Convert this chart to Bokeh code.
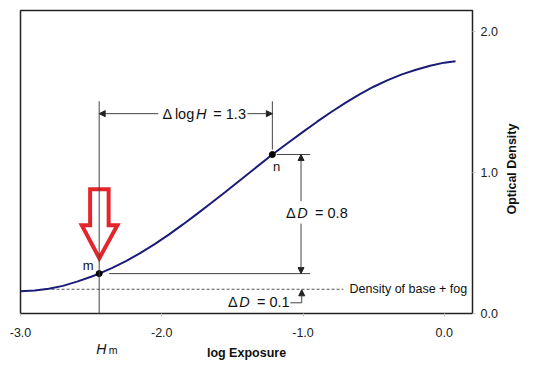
import math
from bokeh.plotting import figure
from bokeh.models import Range1d, FixedTicker, Arrow, NormalHead, Label, LinearAxis
from bokeh.embed import file_html
from bokeh.resources import INLINE

FONT = "Liberation Sans"

# ---- data -------------------------------------------------------------
curve_log_exposure = [-3.0, -2.9, -2.8, -2.7, -2.6, -2.5, -2.443, -2.35, -2.25, -2.15,
                      -2.05, -1.95, -1.85, -1.75, -1.65, -1.55, -1.45, -1.35, -1.217,
                      -1.1, -1.0, -0.9, -0.8, -0.7, -0.6, -0.5, -0.4, -0.3, -0.2,
                      -0.1, 0.0, 0.08]
curve_density = [0.158, 0.163, 0.175, 0.196, 0.226, 0.261, 0.283, 0.324, 0.374, 0.430,
                 0.492, 0.560, 0.632, 0.707, 0.784, 0.862, 0.942, 1.022, 1.128,
                 1.215, 1.289, 1.361, 1.430, 1.495, 1.555, 1.609, 1.656, 1.697, 1.730,
                 1.758, 1.780, 1.790]

x_ticks = [-3.0, -2.0, -1.0, 0.0]
x_tick_labels = ["-3.0", "-2.0", "-1.0", "0.0"]
y_ticks = [0.0, 1.0, 2.0]
y_tick_labels = ["0.0", "1.0", "2.0"]
y_title = "Optical Density"
y_title_start = 0.702          # density level where the rotated title begins
x_title = "log Exposure"

point_m = [-2.443, 0.283]
point_n = [-1.217, 1.128]
hm_label_x = -2.428
hm_subscript_x = -2.344
base_fog_density = 0.172
fog_line_x = [-2.78, -0.714]
guide_top = 1.506
hm_line_bottom = -0.149
n_line_bottom = 1.163
log_h_arrow_y = 1.418
log_h_gap = [-2.025, -1.394]
dd_arrow_x = -1.014
dd_gap = [0.638, 0.797]
level_line_end = -0.950
m_line_start = -2.372
n_line_start = -1.186
dd01_x = -1.009
dd01_bottom = 0.076
dd01_hook_start = -1.09
marker_arrow_x = [-2.507, -2.376, -2.376, -2.314, -2.442, -2.566, -2.507]
marker_arrow_y = [0.882, 0.882, 0.626, 0.626, 0.392, 0.626, 0.626]

# ---- figure -----------------------------------------------------------
p = figure(width=536, height=365, x_range=Range1d(-3.0, 0.2), y_range=Range1d(0.0, 2.15),
           y_axis_location="right", output_backend="svg", toolbar_location=None,
           min_border_left=20, min_border_top=10, min_border_right=64, min_border_bottom=52)
p.background_fill_color = "white"
p.border_fill_color = "white"
p.outline_line_color = "#222222"
p.outline_line_width = 1.5
p.grid.visible = False


def style_axis(ax):
    ax.axis_line_color = None
    ax.major_tick_line_color = "#c8c8c8"
    ax.major_tick_out = 3
    ax.major_tick_in = 0
    ax.minor_tick_line_color = None
    ax.major_label_text_font = FONT
    ax.major_label_text_font_size = "12.5px"
    ax.major_label_text_color = "#222222"
    ax.axis_label_text_font = FONT
    ax.axis_label_text_font_size = "12.5px"
    ax.axis_label_text_font_style = "bold"
    ax.axis_label_text_color = "#111111"


style_axis(p.xaxis[0])
style_axis(p.yaxis[0])

p.xaxis.ticker = FixedTicker(ticks=x_ticks)
p.xaxis.major_label_overrides = {t: s for t, s in zip(x_ticks, x_tick_labels)}
p.xaxis.major_label_standoff = 11
p.yaxis.ticker = FixedTicker(ticks=y_ticks)
p.yaxis.major_label_overrides = {t: s for t, s in zip(y_ticks, y_tick_labels)}
p.yaxis.major_label_standoff = 5

# rotated right-hand title (reads bottom to top)
title_axis = LinearAxis(ticker=FixedTicker(ticks=[y_title_start]),
                        major_label_overrides={y_title_start: y_title})
style_axis(title_axis)
title_axis.major_tick_line_color = None
title_axis.major_tick_out = 0
title_axis.major_label_orientation = math.pi / 2
title_axis.major_label_text_font_style = "bold"
title_axis.major_label_text_color = "#111111"
title_axis.major_label_standoff = 12
p.add_layout(title_axis, "right")

# second row below the axis: italic H (of H_m) and the axis title
hm_axis = LinearAxis(ticker=FixedTicker(ticks=[hm_label_x]),
                     major_label_overrides={hm_label_x: "H"})
style_axis(hm_axis)
hm_axis.major_tick_line_color = None
hm_axis.major_tick_out = 0
hm_axis.major_label_text_font_size = "14px"
hm_axis.major_label_text_font_style = "italic"
hm_axis.major_label_text_color = "#111111"
hm_axis.major_label_standoff = 1
hm_axis.axis_label = x_title
hm_axis.axis_label_standoff = -14
p.add_layout(hm_axis, "below")

# subscript m of H_m
sub_axis = LinearAxis(ticker=FixedTicker(ticks=[hm_subscript_x]),
                      major_label_overrides={hm_subscript_x: "m"})
style_axis(sub_axis)
sub_axis.major_tick_line_color = None
sub_axis.major_tick_out = 0
sub_axis.major_label_text_font_size = "10.5px"
sub_axis.major_label_text_color = "#111111"
sub_axis.major_label_standoff = -19
p.add_layout(sub_axis, "below")

LINE = "#444444"
HEAD = "#222222"

# base + fog dashed line
p.line(fog_line_x, [base_fog_density, base_fog_density], line_color="#555555",
       line_width=1, line_dash="3 2")

# horizontal level lines at m and n
p.segment(x0=[m_line_start, n_line_start], y0=[point_m[1], point_n[1]],
          x1=[level_line_end, level_line_end], y1=[point_m[1], point_n[1]],
          line_color=LINE, line_width=1)

# vertical guide at n
p.segment(x0=[point_n[0]], y0=[guide_top], x1=[point_n[0]], y1=[n_line_bottom],
          line_color=LINE, line_width=1)

# vertical guide at H_m (runs below the axis)
p.add_layout(Arrow(end=None, x_start=point_m[0], y_start=guide_top,
                   x_end=point_m[0], y_end=hm_line_bottom,
                   line_color=LINE, line_width=1))


def arrow(xs, ys, xe, ye):
    p.add_layout(Arrow(end=NormalHead(size=6, fill_color=HEAD, line_color=HEAD, line_width=1),
                       x_start=xs, y_start=ys, x_end=xe, y_end=ye,
                       line_color=LINE, line_width=1))


# delta log H arrows
arrow(log_h_gap[0], log_h_arrow_y, point_m[0], log_h_arrow_y)
arrow(log_h_gap[1], log_h_arrow_y, point_n[0], log_h_arrow_y)
# delta D = 0.8 arrows
arrow(dd_arrow_x, dd_gap[1], dd_arrow_x, point_n[1])
arrow(dd_arrow_x, dd_gap[0], dd_arrow_x, point_m[1])
# delta D = 0.1 arrow with hook
p.segment(x0=[dd01_hook_start], y0=[dd01_bottom], x1=[dd01_x], y1=[dd01_bottom],
          line_color=LINE, line_width=1)
arrow(dd01_x, dd01_bottom, dd01_x, base_fog_density - 0.004)

# characteristic curve
p.line(curve_log_exposure, curve_density, line_color="#1b1b78", line_width=2)

# points m and n
p.scatter([point_m[0], point_n[0]], [point_m[1], point_n[1]], size=6,
          fill_color="black", line_color="black")

# red hollow marker arrow
p.patch(marker_arrow_x, marker_arrow_y, fill_color=None, line_color="#e2262b",
        line_width=4, line_join="miter")


def put(x, y, text, dx=0.0, size="14.5px", style="normal", align="left"):
    p.add_layout(Label(x=x, y=y, text=text, x_offset=dx, text_font=FONT,
                       text_font_size=size, text_font_style=style, text_align=align,
                       text_baseline="middle", text_color="#111111"))


# Δ log H = 1.3
put(-1.994, log_h_arrow_y, "\u0394")
put(-1.994, log_h_arrow_y, "log", dx=12.3)
put(-1.994, log_h_arrow_y, "H", dx=33.3, style="italic")
put(-1.994, log_h_arrow_y, "= 1.3", dx=50.7)
# Δ D = 0.8
put(-1.120, 0.714, "\u0394")
put(-1.120, 0.714, "D", dx=11.3, style="italic")
put(-1.120, 0.714, "= 0.8", dx=29.0)
# Δ D = 0.1
put(-1.531, 0.080, "\u0394")
put(-1.531, 0.080, "D", dx=11.3, style="italic")
put(-1.531, 0.080, "= 0.1", dx=29.0)
# point labels
put(-2.521, 0.340, "m", size="13px", align="center")
put(-1.186, 1.045, "n", size="13px", align="center")
put(-0.671, base_fog_density, "Density of base + fog", size="12.5px")

open("out.html", "w").write(file_html(p, INLINE))
